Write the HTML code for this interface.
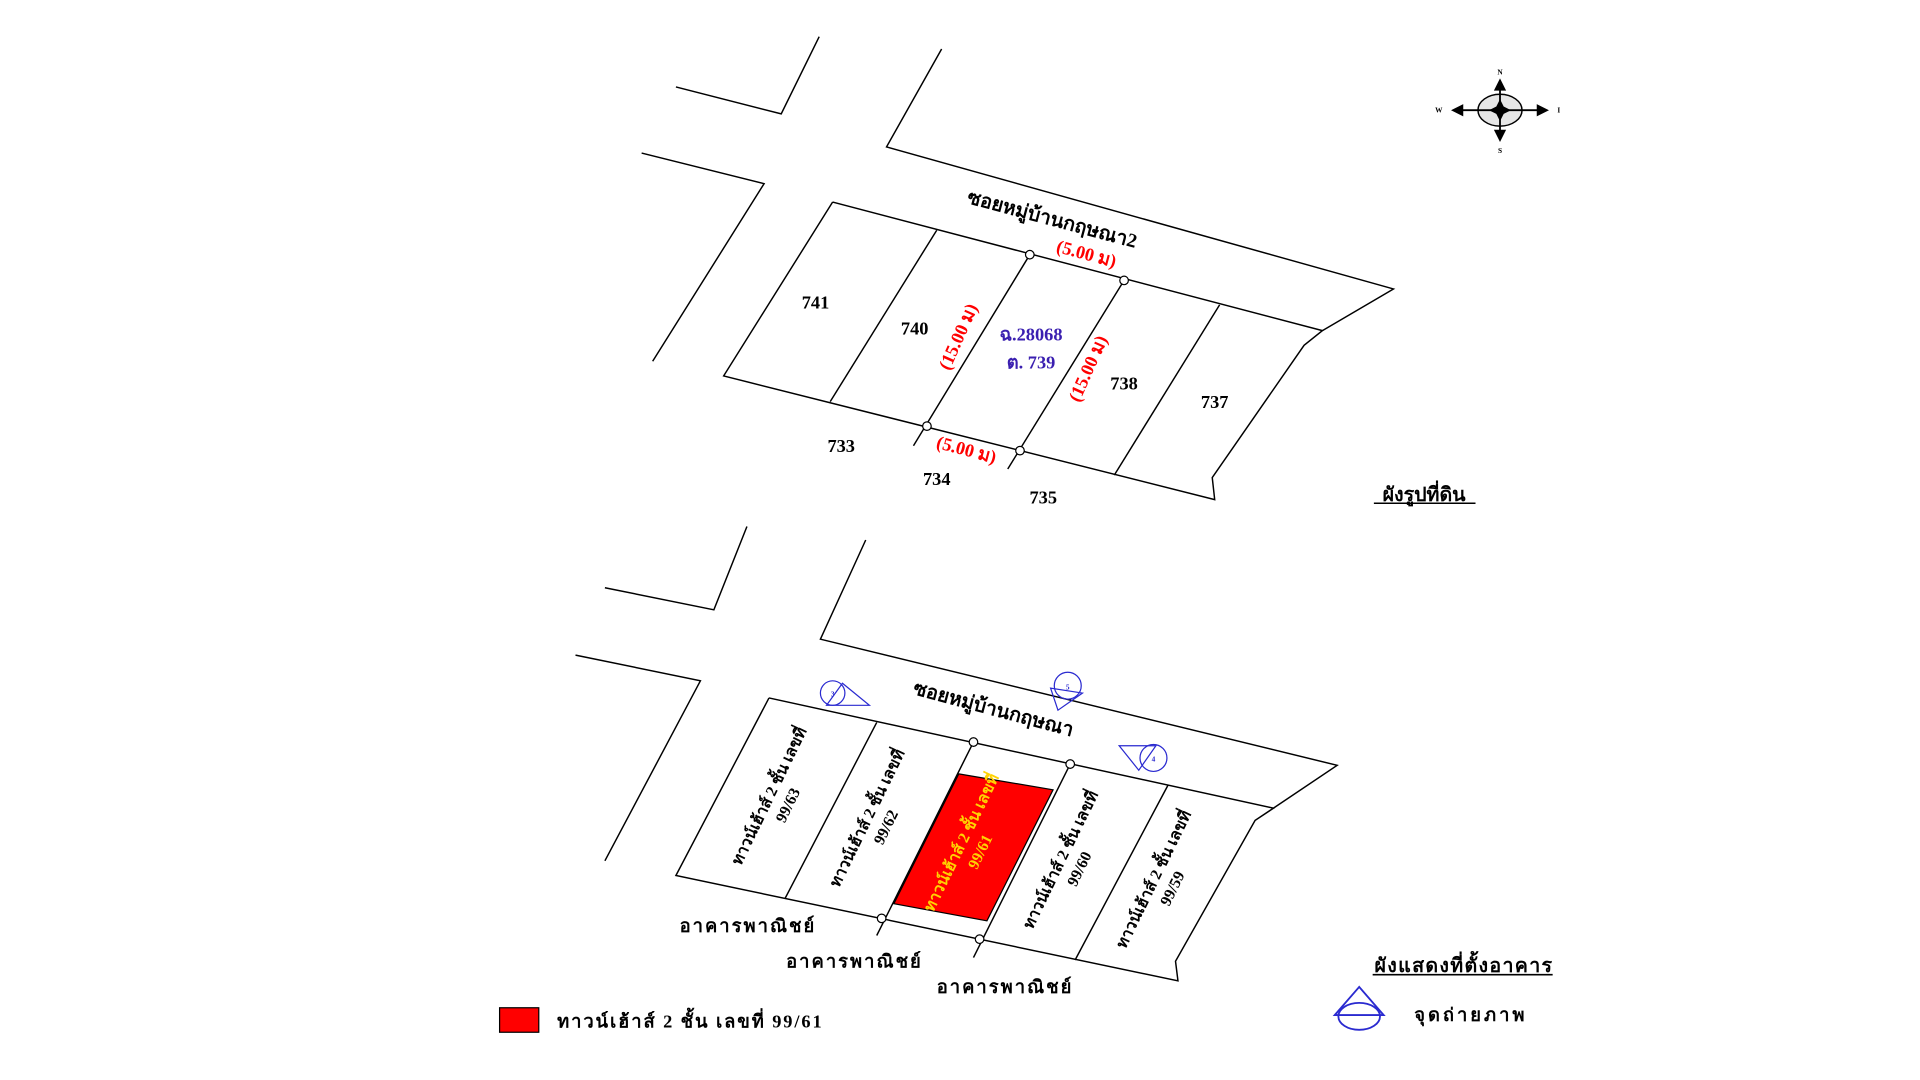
<!DOCTYPE html>
<html><head><meta charset="utf-8"><style>
html,body{margin:0;padding:0;background:#fff;width:1920px;height:1080px;overflow:hidden}
svg{display:block}
text{font-family:"Liberation Serif","Noto Serif CJK SC","Noto Sans CJK SC",serif;font-weight:bold}
</style></head><body>
<svg width="1920" height="1080" viewBox="0 0 1568 882" preserveAspectRatio="none">
<g fill="none" stroke="#000" stroke-width="1.2">
<polyline points="552,71 638,93 669,30"/>
<polyline points="524,125 624,150 533,295"/>
<polyline points="769,40 724,120 1138,236 1080,270"/>
<polyline points="680,165 1080,270 1065,282 990,390 992,408 591,307 680,165"/>
<line x1="765" y1="188" x2="678" y2="328"/>
<line x1="841" y1="208" x2="746" y2="364"/>
<line x1="918" y1="229" x2="823" y2="383"/>
<line x1="996" y1="249" x2="910" y2="388"/>
<polyline points="494,480 583,498 610,430"/>
<polyline points="470,535 572,556 494,703"/>
<polyline points="707,441 670,522 1092,625 1040,660"/>
<polyline points="628,570 1040,660 1025,670 960,785 962,801 552,715 628,570"/>
<line x1="716" y1="590" x2="641" y2="734"/>
<line x1="795" y1="606" x2="716" y2="764"/>
<line x1="874" y1="624" x2="795" y2="782"/>
<line x1="954" y1="641" x2="878" y2="784"/>
</g>
<polygon points="783,632 860,645 806,752 730,738" fill="#ff0000" stroke="#000" stroke-width="1"/>
<g fill="#fff" stroke="#000" stroke-width="1">
<circle cx="841" cy="208" r="3.5"/><circle cx="918" cy="229" r="3.5"/>
<circle cx="757" cy="348" r="3.5"/><circle cx="833" cy="368" r="3.5"/>
<circle cx="795" cy="606" r="3.5"/><circle cx="874" cy="624" r="3.5"/>
<circle cx="720" cy="750" r="3.5"/><circle cx="800" cy="767" r="3.5"/>
</g>
<g font-size="15" fill="#000" text-anchor="middle">
<text x="666" y="252">741</text><text x="747" y="273">740</text>
<text x="918" y="318">738</text><text x="992" y="333">737</text>
<text x="687" y="369">733</text><text x="765" y="396">734</text><text x="852" y="411">735</text>
</g>
<text x="842" y="278" font-size="15" fill="#3a1fb0" text-anchor="middle">ฉ.28068</text>
<text x="842" y="301" font-size="15" fill="#3a1fb0" text-anchor="middle">ต. 739</text>
<text transform="translate(858,184) rotate(15)" font-size="16" text-anchor="middle">ซอยหมู่บ้านกฤษณา2</text>
<g fill="#ff0000" font-size="15" text-anchor="middle">
<text transform="translate(886,212) rotate(15)">(5.00 ม)</text>
<text transform="translate(788,372) rotate(15)">(5.00 ม)</text>
<text transform="translate(787,277) rotate(-66)">(15.00 ม)</text>
<text transform="translate(893,303) rotate(-66)">(15.00 ม)</text>
</g>
<text x="1163" y="409" font-size="16" text-anchor="middle">ผังรูปที่ดิน</text>
<line x1="1122" y1="411" x2="1205" y2="411" stroke="#000" stroke-width="1.3"/>
<g transform="translate(1225,90)">
<ellipse cx="0" cy="0" rx="18" ry="13" fill="#e6e6e6" stroke="#000" stroke-width="1.2"/>
<line x1="-32" y1="0" x2="32" y2="0" stroke="#000" stroke-width="1.5"/>
<line x1="0" y1="-20" x2="0" y2="20" stroke="#000" stroke-width="1.5"/>
<polygon points="-40,0 -30,-5 -30,5" fill="#000"/>
<polygon points="40,0 30,-5 30,5" fill="#000"/>
<polygon points="0,-26 -5,-16 5,-16" fill="#000"/>
<polygon points="0,26 -5,16 5,16" fill="#000"/>
<polygon points="0,-9 3,-3 9,0 3,3 0,9 -3,3 -9,0 -3,-3" fill="#000"/>
<text x="0" y="-29" font-size="6" text-anchor="middle" font-family="Liberation Sans">N</text>
<text x="0" y="35" font-size="6" text-anchor="middle" font-family="Liberation Sans">S</text>
<text x="-50" y="2" font-size="6" text-anchor="middle" font-family="Liberation Sans">W</text>
<text x="48" y="2" font-size="6" text-anchor="middle" font-family="Liberation Sans">I</text>
</g>
<text transform="translate(810,584) rotate(15)" font-size="16" text-anchor="middle">ซอยหมู่บ้านกฤษณา</text>
<g font-size="13" text-anchor="middle">
<g transform="translate(632,652) rotate(-64)"><text x="0" y="0">ทาวน์เฮ้าส์ 2 ชั้น เลขที่</text><text x="0" y="17" font-weight="normal">99/63</text></g>
<g transform="translate(712,670) rotate(-64)"><text x="0" y="0">ทาวน์เฮ้าส์ 2 ชั้น เลขที่</text><text x="0" y="17" font-weight="normal">99/62</text></g>
<g transform="translate(789,690) rotate(-64)" fill="#ffd200"><text x="0" y="0">ทาวน์เฮ้าส์ 2 ชั้น เลขที่</text><text x="0" y="17" font-weight="normal">99/61</text></g>
<g transform="translate(870,704) rotate(-64)"><text x="0" y="0">ทาวน์เฮ้าส์ 2 ชั้น เลขที่</text><text x="0" y="17" font-weight="normal">99/60</text></g>
<g transform="translate(946,720) rotate(-64)"><text x="0" y="0">ทาวน์เฮ้าส์ 2 ชั้น เลขที่</text><text x="0" y="17" font-weight="normal">99/59</text></g>
</g>
<g font-size="15" text-anchor="middle">
<text x="610" y="761" textLength="110">อาคารพาณิชย์</text>
<text x="697" y="790" textLength="110">อาคารพาณิชย์</text>
<text x="820" y="811" textLength="110">อาคารพาณิชย์</text>
</g>
<g fill="none" stroke="#2a2ad0" stroke-width="1">
<g transform="translate(680,566)"><circle r="10"/><polygon points="8,-8 30,10 -5,10"/><text x="0" y="3" font-size="6" fill="#2a2ad0" stroke="none" text-anchor="middle">3</text></g>
<g transform="translate(872,560)"><circle r="11"/><polygon points="-14,2 -8,20 12,6"/><text x="0" y="3" font-size="6" fill="#2a2ad0" stroke="none" text-anchor="middle">5</text></g>
<g transform="translate(942,619)"><circle r="11"/><polygon points="-28,-10 2,-10 -12,10"/><text x="0" y="3" font-size="6" fill="#2a2ad0" stroke="none" text-anchor="middle">4</text></g>
<g transform="translate(1110,824)"><polygon points="0,-18 -20,5 20,5" stroke-width="1.5"/><ellipse cx="0" cy="6" rx="17" ry="11" stroke-width="1.5"/></g>
</g>
<rect x="408" y="823" width="32" height="20" fill="#ff0000" stroke="#000" stroke-width="1"/>
<text x="455" y="839" font-size="15" textLength="216">ทาวน์เฮ้าส์ 2 ชั้น เลขที่ 99/61</text>
<text x="1195" y="794" font-size="16" text-anchor="middle" textLength="145">ผังแสดงที่ตั้งอาคาร</text>
<line x1="1121" y1="796" x2="1268" y2="796" stroke="#000" stroke-width="1.3"/>
<text x="1155" y="834" font-size="15" textLength="90">จุดถ่ายภาพ</text>
</svg>
</body></html>
